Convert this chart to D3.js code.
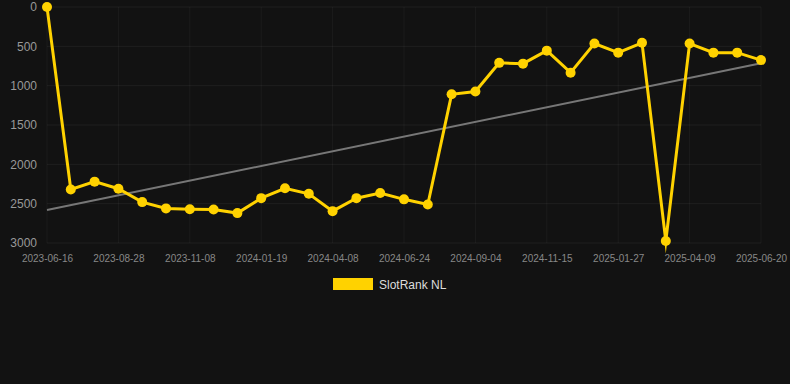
<!DOCTYPE html>
<html>
<head>
<meta charset="utf-8">
<script src="https://cdn.jsdelivr.net/npm/d3@7/dist/d3.min.js"></script>
<style>
  html, body { margin: 0; padding: 0; background: #121212; }
  svg { display: block; font-family: "Liberation Sans", Arial, sans-serif; }
</style>
</head>
<body>
<div id="chart"></div>
<script>
// dates of each sample (only every third one is printed on the axis)
const dates = [
  '2023-06-16', '2023-07-10', '2023-08-04', '2023-08-28', '2023-09-21', '2023-10-15',
  '2023-11-08', '2023-12-02', '2023-12-26', '2024-01-19', '2024-02-14', '2024-03-12',
  '2024-04-08', '2024-05-03', '2024-05-29', '2024-06-24', '2024-07-18', '2024-08-11',
  '2024-09-04', '2024-09-28', '2024-10-22', '2024-11-15', '2024-12-09', '2025-01-03',
  '2025-01-27', '2025-02-20', '2025-03-16', '2025-04-09', '2025-05-03', '2025-05-27',
  '2025-06-20'
];
const rankValues = [
  1, 2320, 2220, 2310, 2480, 2560,
  2570, 2575, 2620, 2430, 2305, 2375,
  2595, 2430, 2365, 2445, 2510, 1110,
  1075, 710, 720, 555, 835, 465,
  580, 455, 2975, 465, 580, 580,
  675
];
const trendValues = [2580, 715];
const yTicks = [0, 500, 1000, 1500, 2000, 2500, 3000];
const seriesName = 'SlotRank NL';

const width = 790, height = 384;
const margin = { top: 7, right: 29, bottom: 141, left: 47 };
const innerW = width - margin.left - margin.right;
const innerH = height - margin.top - margin.bottom;
const yellow = '#ffd200';

const svg = d3.select('#chart').append('svg')
  .attr('width', width).attr('height', height);
svg.append('rect').attr('width', width).attr('height', height).attr('fill', '#121212');

const plot = svg.append('g').attr('transform', `translate(${margin.left},${margin.top})`);

const x = d3.scalePoint().domain(dates).range([0, innerW]);
const y = d3.scaleLinear().domain([0, 3000]).range([0, innerH]);

const tickDates = dates.filter((d, i) => i % 3 === 0);

// grid
plot.append('g').selectAll('line').data(yTicks).join('line')
  .attr('x1', 0).attr('x2', innerW)
  .attr('y1', (d) => y(d)).attr('y2', (d) => y(d))
  .attr('stroke', 'rgba(255,255,255,0.055)').attr('stroke-width', 1);
plot.append('g').selectAll('line').data(tickDates).join('line')
  .attr('x1', (d) => x(d)).attr('x2', (d) => x(d))
  .attr('y1', 0).attr('y2', innerH)
  .attr('stroke', 'rgba(255,255,255,0.045)').attr('stroke-width', 1);

// axes
const yAxis = plot.append('g')
  .call(d3.axisLeft(y).tickValues(yTicks).tickSize(0).tickPadding(10).tickFormat(d3.format('d')));
yAxis.select('.domain').remove();
yAxis.selectAll('text').attr('fill', '#999').attr('font-size', 12);

const xAxis = plot.append('g').attr('transform', `translate(0,${innerH})`)
  .call(d3.axisBottom(x).tickValues(tickDates).tickSize(0).tickPadding(12));
xAxis.select('.domain').remove();
xAxis.selectAll('text').attr('fill', '#888').attr('font-size', 10);

// trend line
plot.append('line')
  .attr('x1', x(dates[0])).attr('y1', y(trendValues[0]))
  .attr('x2', x(dates[dates.length - 1])).attr('y2', y(trendValues[1]))
  .attr('stroke', '#777').attr('stroke-width', 2);

// series
const points = dates.map((d, i) => ({ date: d, value: rankValues[i] }));
plot.append('path').datum(points)
  .attr('fill', 'none').attr('stroke', yellow).attr('stroke-width', 3)
  .attr('stroke-linejoin', 'miter').attr('stroke-miterlimit', 10)
  .attr('d', d3.line().x((p) => x(p.date)).y((p) => y(p.value)));
plot.append('g').selectAll('circle').data(points).join('circle')
  .attr('cx', (p) => x(p.date)).attr('cy', (p) => y(p.value))
  .attr('r', 5).attr('fill', yellow);

// legend
const legend = svg.append('g').attr('transform', 'translate(333,278)');
legend.append('rect').attr('width', 40).attr('height', 12).attr('fill', yellow);
legend.append('text').attr('x', 46).attr('y', 10.5)
  .attr('fill', '#ddd').attr('font-size', 12).text(seriesName);
</script>
</body>
</html>
